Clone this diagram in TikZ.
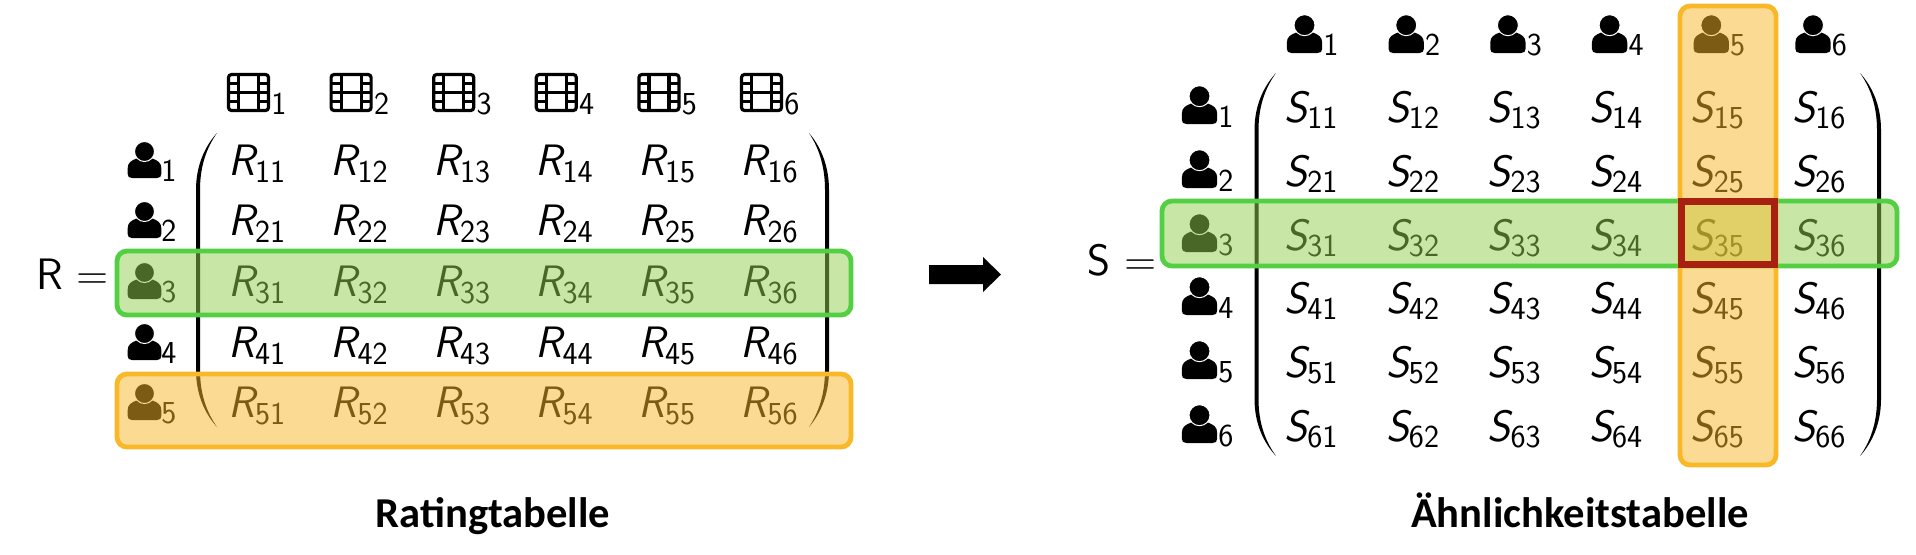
\documentclass[tikz,border=0pt]{standalone}
\usepackage{fontspec}
\newfontfamily\titlefont{Carlito}
\definecolor{rowgreen}{HTML}{92D050}
\definecolor{rowgreenline}{HTML}{52CF42}
\definecolor{colorange}{HTML}{F8B828}
\definecolor{cellred}{HTML}{A82110}
\newcommand{\entry}[3]{{\itshape #1}\raisebox{-#3pt}{\fontsize{16}{16}\selectfont #2}}
% stem x, tip x, top y, bottom y, side (1 left, -1 right)
\newcommand{\matparen}[5]{
	\fill ({#2},#3) .. controls ({#1+0.42*(#2-#1)-0.8*#5},{#3+13}) and ({#1-2*#5},{#3+32}) .. ({#1-2*#5},{#3+57})
		-- ({#1-2*#5},{#4-57}) .. controls ({#1-2*#5},{#4-32}) and ({#1+0.42*(#2-#1)-0.8*#5},{#4-13}) .. ({#2},#4)
		.. controls ({#1+0.42*(#2-#1)+1.2*#5},{#4-14}) and ({#1+2*#5},{#4-32}) .. ({#1+2*#5},{#4-57})
		-- ({#1+2*#5},{#3+57}) .. controls ({#1+2*#5},{#3+32}) and ({#1+0.42*(#2-#1)+1.2*#5},{#3+14}) .. cycle;
}
\tikzset{
	lab/.style={font=\sffamily\fontsize{22}{25}\selectfont, inner sep=0pt, anchor=base west},
	idx/.style={font=\sffamily\fontsize{16}{16}\selectfont, inner sep=0pt, anchor=base west},
	title/.style={font=\titlefont\bfseries\fontsize{21.3}{25}\selectfont, inner sep=0pt, anchor=base},
	rowbox/.style={draw=rowgreenline, line width=2.4pt, fill=rowgreen, fill opacity=0.5, rounded corners=5pt},
	colbox/.style={draw=colorange, line width=2.4pt, fill=colorange, fill opacity=0.5, rounded corners=5pt},
	person/.pic={
		\fill (-12.5,0) -- (12.5,0) .. controls (15.5,0) and (16.8,-1.5) .. (16.8,-4) -- (16.8,-10)
			.. controls (16.8,-15.5) and (13,-17.5) .. (8,-19.5) -- (-8,-19.5)
			.. controls (-13,-17.5) and (-16.8,-15.5) .. (-16.8,-10) -- (-16.8,-4)
			.. controls (-16.8,-1.5) and (-15.5,0) .. (-12.5,0) -- cycle;
		\draw[white, line width=0.5pt, fill=black] (0,-26.5) circle (10);
	},
	film/.pic={
		\draw[line width=1.6pt, rounded corners=1.5pt] (-20,-18) rectangle (20,18);
		\draw[line width=1.6pt] (-10,-18) -- (-10,18) (10,-18) -- (10,18) (-10,0) -- (10,0);
		\foreach \h in {-9,0,9}
			\draw[line width=1.4pt] (-20,\h) -- (-10,\h) (10,\h) -- (20,\h);
	}
}
\begin{document}
\begin{tikzpicture}[x=0.5pt,y=-0.5pt]
	\useasboundingbox (0,0) rectangle (1916,554);
	% left matrix
	\node[lab] (Rname) at (36,289) {R =};
	\foreach \c in {1,...,6} {
		\pic at ({248.5+102.6*(\c-1)},92.5) {film};
		\node[idx] (film\c) at ({271+102.6*(\c-1)},114) {\c};
	}
	\foreach \r/\y in {1/175,2/235,3/296,4/357,5/417} {
		\pic at (144.5,\y+3) {person};
		\node[idx] (user\r) at (161,\y+6) {\r};
		\foreach \c in {1,...,6}
			\node[lab] (R\r\c) at ({228+102.5*(\c-1)},\y+0.5) {\entry{R}{\r\c}{3.4}};
	}
	\matparen{198}{217}{133}{427}{1}
	\matparen{827}{809}{133}{427}{-1}
	\draw[rowbox] (117,251) rectangle (851,315);
	\draw[colbox] (117,374) rectangle (851,447);
	% arrow
	\fill (929,265) -- (983,265) -- (983,257) -- (1001,274.5) -- (983,292) -- (983,284) -- (929,284) -- cycle;
	% right matrix
	\node[lab] (Sname) at (1087,275) {S =};
	\foreach \c in {1,...,6} {
		\pic[scale=1.05] at ({1304.5+101.7*(\c-1)},53) {person};
		\node[idx] (head\c) at ({1323+101.7*(\c-1)},55) {\c};
	}
	\foreach \r/\y in {1/122,2/186,3/250,4/313,5/377,6/441} {
		\pic[scale=1.05] at (1199.5,\y+2) {person};
		\node[idx] (side\r) at (1218,\y+5) {\r};
		\foreach \c in {1,...,6}
			\node[lab] (S\r\c) at ({1284+101.6*(\c-1)},\y+0.5) {\entry{S}{\r\c}{2.9}};
	}
	\matparen{1256.5}{1276}{73}{456}{1}
	\matparen{1879}{1860}{73}{456}{-1}
	\draw[rowbox] (1162,201) rectangle (1897,266);
	\draw[colbox] (1680,6) rectangle (1776,465);
	\draw[cellred, line width=3.7pt] (1681.5,201.5) rectangle (1774.5,264.5);
	% titles
	\node[title] (Rtitle) at (493,527) {Ratingtabelle};
	\node[title] (Stitle) at (1580,527) {Ähnlichkeitstabelle};
\end{tikzpicture}
\end{document}
